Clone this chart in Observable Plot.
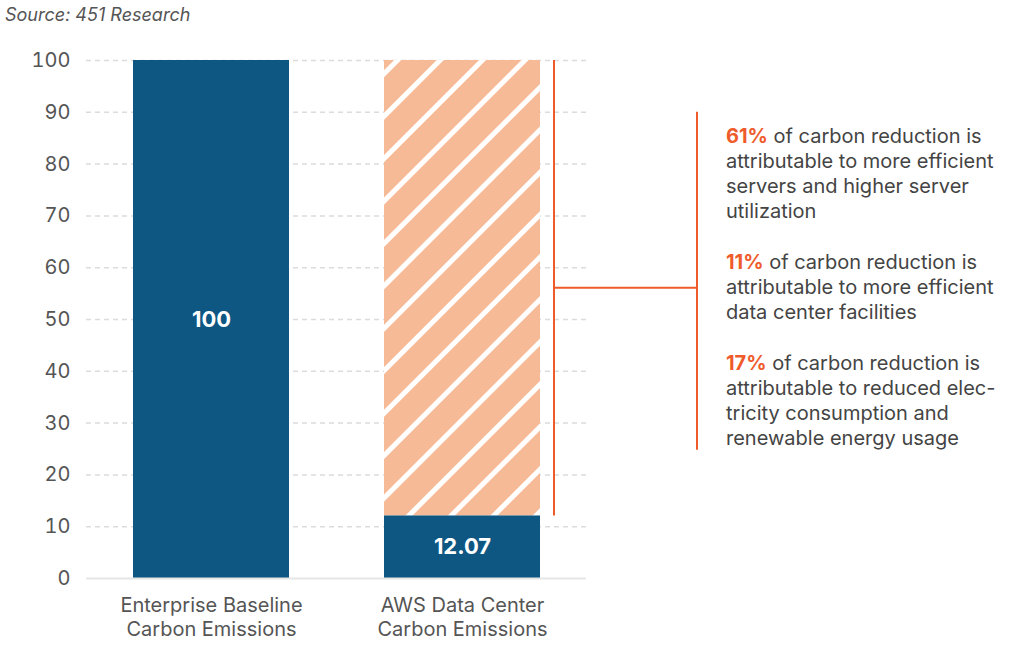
<!DOCTYPE html>
<html><head><meta charset="utf-8">
<script src="https://cdn.jsdelivr.net/npm/d3@7"></script>
<script src="https://cdn.jsdelivr.net/npm/@observablehq/plot@0.6"></script>
<style>
body{margin:0;background:#fff;font-family:Inter,sans-serif;}
#source{height:30px;font-style:italic;color:#555;font-size:18px;padding-left:5px;line-height:30px;}
</style></head><body>
<div id="source">Source: 451 Research</div>
<div id="chart"></div>
<script>
const categories = ["Enterprise Baseline\nCarbon Emissions", "AWS Data Center\nCarbon Emissions"];
const emissions = [100, 12.07];
const emissionLabels = ["100", "12.07"];
const reductionTop = [null, 100];
const yTicks = [0, 10, 20, 30, 40, 50, 60, 70, 80, 90, 100];
const notePercents = ["61%", "11%", "17%"];
const noteLines = [
  [" of carbon reduction is", "attributable to more efficient", "servers and higher server", "utilization"],
  [" of carbon reduction is", "attributable to more efficient", "data center facilities"],
  [" of carbon reduction is", "attributable to reduced elec-", "tricity consumption and", "renewable energy usage"]
];

const FONT = "Inter, sans-serif";
const BLUE = "#0E5783", PEACH = "#F7BA97", ORANGE = "#EF5B2B", GREY = "#555";
const rows = categories.map((c, i) => ({cat: c, value: emissions[i], label: emissionLabels[i], top: reductionTop[i]}));

const plot = Plot.plot({
  width: 1022, height: 616,
  marginTop: 30, marginBottom: 68, marginLeft: 86, marginRight: 436,
  style: {fontFamily: FONT, fontSize: "20px", color: GREY, background: "transparent"},
  x: {domain: categories, paddingInner: 0.38, paddingOuter: 0.186},
  y: {domain: [0, 100]},
  marks: [
    Plot.ruleY(yTicks.filter(t => t > 0), {stroke: "#dcdcdc", strokeWidth: 1.5, strokeDasharray: "5,4"}),
    Plot.barY(rows.filter(d => d.top != null), {x: "cat", y1: "value", y2: "top", fill: "url(#hatch)"}),
    Plot.barY(rows, {x: "cat", y: "value", fill: BLUE}),
    Plot.ruleY([0], {stroke: "#e6e6e6", strokeWidth: 2}),
    Plot.axisY({ticks: yTicks, tickSize: 0, tickPadding: 16, label: null, fontSize: 20, fill: GREY}),
    Plot.axisX({tickSize: 0, tickPadding: 16, label: null, fontSize: 20, lineHeight: 1.22, fill: GREY}),
    Plot.text(rows, {x: "cat", y: d => d.value / 2, text: "label", fill: "white", fontWeight: "bold", fontSize: 22})
  ]
});

const svg = d3.select(plot);
const defs = svg.insert("defs", ":first-child");
const pat = defs.append("pattern").attr("id", "hatch").attr("patternUnits", "userSpaceOnUse")
  .attr("width", 30).attr("height", 30).attr("patternTransform", "rotate(45)");
pat.append("rect").attr("width", 30).attr("height", 30).attr("fill", PEACH);
pat.append("rect").attr("x", 0).attr("width", 5).attr("height", 30).attr("fill", "#fff");

// bracket and notes, positioned with Plot's scales
const xs = plot.scale("x"), ys = plot.scale("y");
const barRight = xs.apply(categories[1]) + xs.bandwidth;
const bx = barRight + 14;
const yTop = ys.apply(reductionTop[1]), yBot = ys.apply(emissions[1]);
const midY = ys.apply((reductionTop[1] + emissions[1]) / 2);
const rx = bx + 143;
const g = svg.append("g").attr("stroke", ORANGE).attr("stroke-width", 2).attr("fill", "none");
g.append("line").attr("x1", bx).attr("x2", bx).attr("y1", yTop).attr("y2", yBot);
g.append("line").attr("x1", bx).attr("x2", rx).attr("y1", midY).attr("y2", midY);
g.append("line").attr("x1", rx).attr("x2", rx).attr("y1", midY - 176).attr("y2", midY + 162);

const tx = rx + 29;
let base = midY - 145;
const lh = 25;
const tg = svg.append("g").attr("font-family", FONT).attr("font-size", 20).attr("fill", "#444").attr("text-anchor", "start");
noteLines.forEach((lines, i) => {
  lines.forEach((ln, j) => {
    const t = tg.append("text").attr("x", tx).attr("y", base + j * lh).style("white-space", "pre");
    if (j === 0) {
      t.append("tspan").attr("font-weight", "bold").attr("fill", ORANGE).text(notePercents[i]);
      t.append("tspan").text(ln);
    } else t.text(ln);
  });
  base += (lines.length - 1) * lh + 51;
});

document.getElementById("chart").appendChild(plot);
</script>
</body></html>
